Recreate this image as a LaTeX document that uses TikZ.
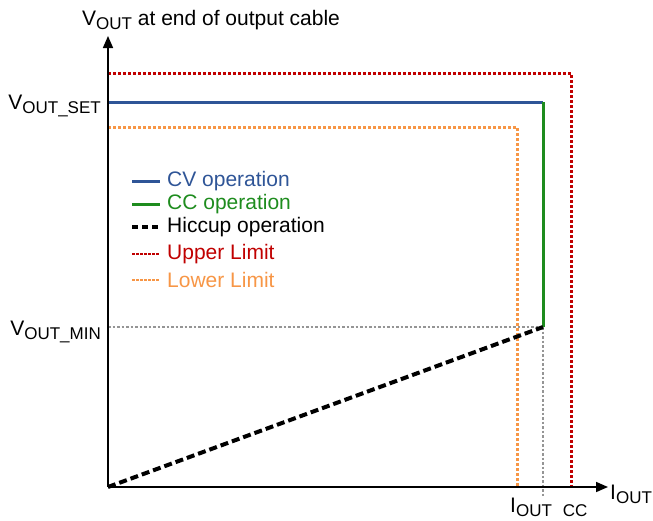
\documentclass[tikz,border=0pt]{standalone}
\usepackage{fontspec}
\setmainfont{Liberation Sans}
\usetikzlibrary{arrows.meta}
\definecolor{cvblue}{HTML}{2F5597}
\definecolor{ccgreen}{HTML}{1E8C1E}
\definecolor{uplim}{HTML}{C00000}
\definecolor{lowlim}{HTML}{F79646}
\definecolor{gridgray}{HTML}{959595}
\newcommand{\mysub}[1]{\raisebox{-0.2em}{\fontsize{17}{17}\selectfont #1}}
\tikzset{
  axis/.style={line width=1.6pt, -{Triangle[length=12pt,width=10pt]}},
  cvline/.style={cvblue, line width=3pt},
  ccline/.style={ccgreen, line width=3pt},
  hicline/.style={black, line width=4pt, dash pattern=on 8pt off 4pt},
  upline/.style={uplim, line width=3pt, dash pattern=on 3pt off 2pt},
  lowline/.style={lowlim, line width=3pt, dash pattern=on 3pt off 2pt},
  gline/.style={gridgray, line width=2.6pt, dash pattern=on 2.5pt off 2pt},
  lbl/.style={inner sep=0pt, font=\fontsize{21}{25}\selectfont},
  leg/.style={inner sep=0pt, anchor=west, font=\fontsize{21}{25}\selectfont},
}
\begin{document}
\begin{tikzpicture}[x=1pt, y=-1pt]
\useasboundingbox (0,0) rectangle (653,520);
% key points
\coordinate (O) at (108,487);
\coordinate (ytip) at (108,36);
\coordinate (xtip) at (608,487);
\coordinate (up0) at (108,73);
\coordinate (upc) at (571,73);
\coordinate (upb) at (571,487);
\coordinate (cv0) at (108,102);
\coordinate (cvc) at (543,102);
\coordinate (cmin) at (543,327);
\coordinate (vmin0) at (108,327);
\coordinate (gb) at (543,497);
\coordinate (lo0) at (108,127);
\coordinate (loc) at (517,127);
\coordinate (lob) at (517,487);
% limits
\draw[upline] (up0) -- (upc) -- (upb);
\draw[lowline] (lo0) -- (loc) -- (lob);
% gray guides
\draw[gline] (vmin0) -- (cmin);
\draw[gline] (cmin) -- (gb);
% operation
\draw[cvline] (cv0) -- (cvc);
\draw[ccline] (cvc) -- (cmin);
\draw[hicline] (O) -- (cmin);
% axes
\draw[axis] (O) -- (ytip);
\draw[axis] (O) -- (xtip);
% axis labels
\node[lbl, anchor=base west] (ylab) at (82,25) {V\mysub{OUT} at end of output cable};
\node[lbl, anchor=base east] (vset) at (101,109) {V\mysub{OUT\_SET}};
\node[lbl, anchor=base east] (vmin) at (101,335) {V\mysub{OUT\_MIN}};
\node[lbl, anchor=base west] (xlab) at (610,499) {I\mysub{OUT}};
\node[lbl, anchor=base west] (icc) at (510,512) {I\mysub{OUT\hspace{11pt}CC}};
% legend
\coordinate (l1a) at (132,181); \coordinate (l1b) at (160,181);
\coordinate (l2a) at (132,204); \coordinate (l2b) at (160,204);
\coordinate (l3a) at (132,227); \coordinate (l3b) at (160,227);
\coordinate (l4a) at (132,254); \coordinate (l4b) at (160,254);
\coordinate (l5a) at (132,280); \coordinate (l5b) at (160,280);
\draw[cvline] (l1a) -- (l1b);
\draw[ccline] (l2a) -- (l2b);
\draw[black, line width=3.5pt, dash pattern=on 6pt off 4pt] (l3a) -- (l3b);
\draw[uplim, line width=2.2pt, dash pattern=on 2.5pt off 1.5pt] (l4a) -- (l4b);
\draw[lowlim, line width=2.2pt, dash pattern=on 2.5pt off 1.5pt] (l5a) -- (l5b);
\node[leg, text=cvblue] (t1) at (167,181) {CV operation};
\node[leg, text=ccgreen] (t2) at (167,204) {CC operation};
\node[leg, text=black] (t3) at (167,227) {Hiccup operation};
\node[leg, text=uplim] (t4) at (167,254) {Upper Limit};
\node[leg, text=lowlim] (t5) at (167,280) {Lower Limit};
\end{tikzpicture}
\end{document}
